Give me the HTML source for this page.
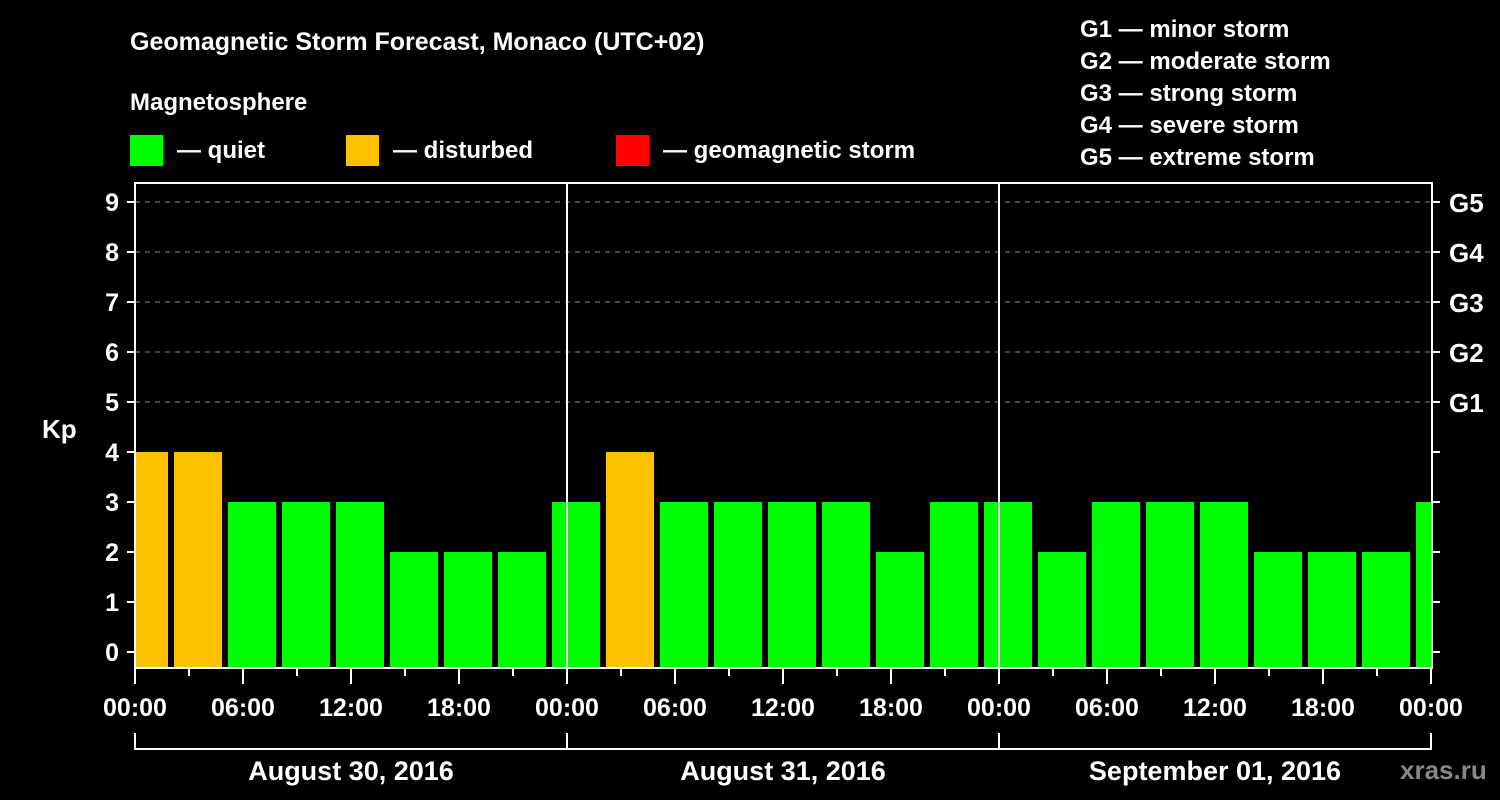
<!DOCTYPE html>
<html><head><meta charset="utf-8"><style>
html,body{margin:0;padding:0;background:#000;}
svg{display:block;font-family:"Liberation Sans",Arial,sans-serif;font-weight:bold;}
</style></head><body>
<svg id="chart" width="1500" height="800" viewBox="0 0 1500 800" xmlns="http://www.w3.org/2000/svg">
<rect x="0" y="0" width="1500" height="800" fill="#000"/>
<text x="130" y="50" fill="#fff" font-size="25">Geomagnetic Storm Forecast, Monaco (UTC+02)</text>
<text x="130" y="110" fill="#fff" font-size="24">Magnetosphere</text>
<g><rect x="130" y="135" width="33" height="31" fill="#00ff00"/><text x="177" y="158" fill="#fff" font-size="24">— quiet</text></g>
<g><rect x="346" y="135" width="33" height="31" fill="#ffc000"/><text x="393" y="158" fill="#fff" font-size="24">— disturbed</text></g>
<g><rect x="616" y="135" width="33" height="31" fill="#ff0000"/><text x="663" y="158" fill="#fff" font-size="24">— geomagnetic storm</text></g>
<g fill="#fff" font-size="24">
<text x="1080" y="37">G1 — minor storm</text>
<text x="1080" y="69">G2 — moderate storm</text>
<text x="1080" y="101">G3 — strong storm</text>
<text x="1080" y="133">G4 — severe storm</text>
<text x="1080" y="165">G5 — extreme storm</text>
</g>
<text x="42" y="438" fill="#fff" font-size="26">Kp</text>
<text x="1400" y="779" fill="#888" font-size="26">xras.ru</text>
<defs><clipPath id="plotclip"><rect x="135" y="183" width="1297" height="485"/></clipPath></defs>
<g id="grid"></g>
<g id="bars" clip-path="url(#plotclip)"></g>
<g id="axes"></g>
</svg>
<script>
const kpValues=[4,4,3,3,3,2,2,2,3,4,3,3,3,3,2,3,3,2,3,3,3,2,2,2,3];
const slotStartHours=[-1,2,5,8,11,14,17,20,23,26,29,32,35,38,41,44,47,50,53,56,59,62,65,68,71];
const yTicks=[0,1,2,3,4,5,6,7,8,9];
const gLabels=["G1","G2","G3","G4","G5"];
const gLevels=[5,6,7,8,9];
const xTickLabels=["00:00","06:00","12:00","18:00","00:00","06:00","12:00","18:00","00:00","06:00","12:00","18:00","00:00"];
const dayLabels=["August 30, 2016","August 31, 2016","September 01, 2016"];
const NS="http://www.w3.org/2000/svg";
const X0=135,PXH=18,Y0=652,PXK=50,BOT=668,TOP=183,RIGHT=1432;
const xs=h=>X0+h*PXH, ys=k=>Y0-k*PXK;
function mk(t,a,p){const e=document.createElementNS(NS,t);for(const k in a)e.setAttribute(k,a[k]);p.appendChild(e);return e;}
const grid=document.getElementById('grid'),bars=document.getElementById('bars'),axes=document.getElementById('axes');
gLevels.forEach(k=>{const l=mk('line',{x1:X0,x2:RIGHT,y1:ys(k),y2:ys(k),stroke:'#888','stroke-dasharray':'5,5','stroke-width':1},grid);

});
kpValues.forEach((v,i)=>{const c=v>=5?'#ff0000':(v>=4?'#ffc000':'#00ff00');
const r=mk('rect',{x:xs(slotStartHours[i])+3,y:ys(v),width:3*PXH-6,height:BOT-ys(v),fill:c},bars);

});
// day separators
[24,48].forEach(h=>{const l=mk('line',{x1:xs(h),x2:xs(h),y1:TOP,y2:BOT,stroke:'#fff','stroke-width':2},axes);

});
const f=mk('rect',{x:X0,y:TOP,width:RIGHT-X0,height:BOT-TOP,fill:'none',stroke:'#fff','stroke-width':2},axes);


yTicks.forEach(k=>{mk('line',{x1:X0-8,x2:X0,y1:ys(k),y2:ys(k),stroke:'#fff','stroke-width':2},axes);
mk('line',{x1:RIGHT,x2:RIGHT+8,y1:ys(k),y2:ys(k),stroke:'#fff','stroke-width':2},axes);
const t=mk('text',{x:X0-16,y:ys(k)+9,fill:'#fff','font-size':25,'text-anchor':'end'},axes);t.textContent=k;

});
gLevels.forEach((k,i)=>{const t=mk('text',{x:1449,y:ys(k)+10,fill:'#fff','font-size':26},axes);t.textContent=gLabels[i];

});
for(let h=0;h<=72;h+=3){const major=h%6===0;mk('line',{x1:xs(h),x2:xs(h),y1:BOT,y2:BOT+(major?16:8),stroke:'#fff','stroke-width':2},axes);}
xTickLabels.forEach((s,i)=>{const t=mk('text',{x:xs(i*6),y:716,fill:'#fff','font-size':25,'text-anchor':'middle'},axes);t.textContent=s;

});
mk('path',{d:`M${xs(0)} 733 V749 H${xs(72)} V733 M${xs(24)} 733 V749 M${xs(48)} 733 V749`,stroke:'#fff','stroke-width':2,fill:'none'},axes);
dayLabels.forEach((s,i)=>{const t=mk('text',{x:xs(i*24+12),y:780,fill:'#fff','font-size':27,'text-anchor':'middle'},axes);t.textContent=s;

});
</script>
</body></html>
